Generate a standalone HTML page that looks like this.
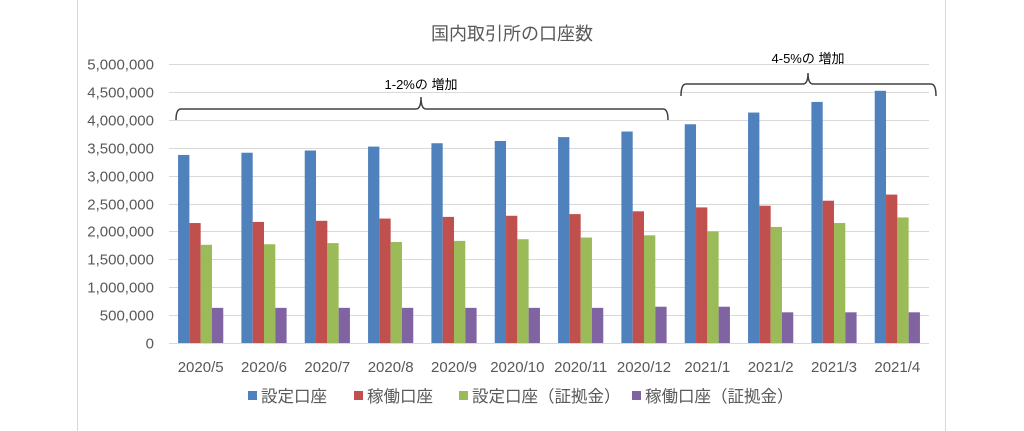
<!DOCTYPE html>
<html><head><meta charset="utf-8"><style>body{margin:0;background:#fff}svg{display:block}</style></head>
<body>
<svg width="1024" height="431" xmlns="http://www.w3.org/2000/svg" font-family="Liberation Sans, Noto Sans CJK JP, sans-serif">
<rect width="1024" height="431" fill="#fff"/>
<line x1="77.5" y1="0" x2="77.5" y2="431" stroke="#d9d9d9"/>
<line x1="945.5" y1="0" x2="945.5" y2="431" stroke="#d9d9d9"/>
<text x="512" y="40" text-anchor="middle" font-size="18" fill="#595959">国内取引所の口座数</text>
<g id="grid" stroke="#d9d9d9" stroke-width="1"></g>
<g id="ylab" font-size="15" fill="#595959" text-anchor="end"></g>
<g id="bars"></g>
<g id="xlab" font-size="15" fill="#595959" text-anchor="middle"></g>
<path d="M176,120 Q176,109 181,109 L416,109 Q421,109 421,97 Q421,109 426,109 L663,109 Q668,109 668,120" fill="none" stroke="#404040" stroke-width="1.5"/>
<path d="M681,96 Q681,84 686,84 L803,84 Q808,84 808,73 Q808,84 813,84 L931,84 Q936,84 936,96" fill="none" stroke="#404040" stroke-width="1.5"/>
<text x="421" y="89" text-anchor="middle" font-size="13" fill="#000">1-2%の 増加</text>
<text x="808" y="63" text-anchor="middle" font-size="13" fill="#000">4-5%の 増加</text>
<g font-size="16.5" fill="#595959">
<rect x="248" y="391" width="9" height="9" fill="#4f81bd"/><text x="261" y="402">設定口座</text>
<rect x="354" y="391" width="9" height="9" fill="#c0504d"/><text x="367" y="402">稼働口座</text>
<rect x="459" y="391" width="9" height="9" fill="#9bbb59"/><text x="472" y="402">設定口座（証拠金）</text>
<rect x="632" y="391" width="9" height="9" fill="#8064a2"/><text x="645" y="402">稼働口座（証拠金）</text>
</g>
<script>
const ns="http://www.w3.org/2000/svg";
function el(p,t,a,txt){const e=document.createElementNS(ns,t);for(const k in a)e.setAttribute(k,a[k]);if(txt)e.textContent=txt;document.getElementById(p).appendChild(e);}
const y=v=>343-v/5e6*279;
for(let i=0;i<=10;i++){const yy=Math.round(y(i*5e5))+0.5;el("grid","line",{x1:169,x2:929,y1:yy,y2:yy});el("ylab","text",{x:154,y:yy+5},(i*500000).toLocaleString("en-US"));}
const labs=["2020/5","2020/6","2020/7","2020/8","2020/9","2020/10","2020/11","2020/12","2021/1","2021/2","2021/3","2021/4"];
const d=[[3.37,3.41,3.45,3.52,3.58,3.62,3.69,3.79,3.92,4.13,4.32,4.52],[2.15,2.17,2.19,2.23,2.26,2.28,2.31,2.36,2.43,2.46,2.55,2.66],[1.76,1.77,1.79,1.81,1.83,1.86,1.89,1.93,2.00,2.08,2.15,2.25],[0.63,0.63,0.63,0.63,0.63,0.63,0.63,0.65,0.65,0.55,0.55,0.55]];
const c=["#4f81bd","#c0504d","#9bbb59","#8064a2"];
const w=760/12,bw=11.3;
for(let i=0;i<12;i++){const cx=169+w*(i+0.5);el("xlab","text",{x:cx,y:372},labs[i]);
for(let s=0;s<4;s++){const v=d[s][i]*1e6;el("bars","rect",{x:cx-2*bw+s*bw,y:y(v),width:bw,height:343-y(v),fill:c[s]});}}
</script>
</svg>
</body></html>
